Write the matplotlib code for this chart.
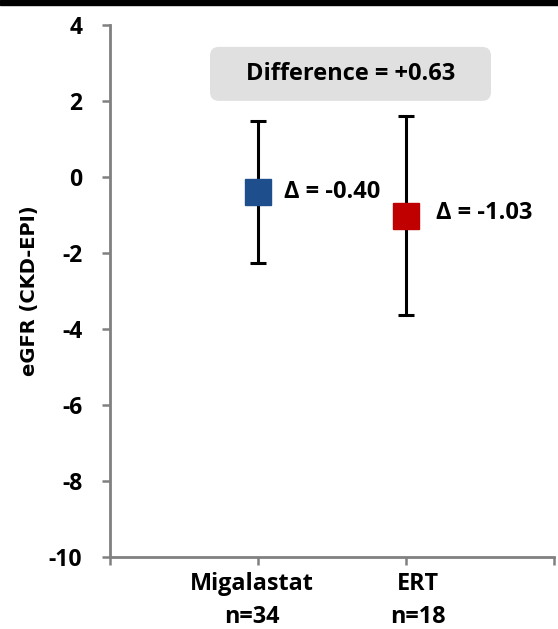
import matplotlib.pyplot as plt
from matplotlib.patches import FancyBboxPatch

plt.rcParams['font.family'] = ['Open Sans', 'DejaVu Sans']
plt.rcParams['axes.unicode_minus'] = False

groups = ['Migalastat', 'ERT']
n_patients = [34, 18]
means = [-0.40, -1.03]
upper = [1.47, 1.60]
lower = [-2.27, -3.63]
colors = ['#1F4E8C', '#C00000']
difference = 0.63

xpos = [1, 2]
label_pos = [0.96, 2.08]

fig = plt.figure(figsize=(5.58, 6.29), dpi=100)
ax = fig.add_axes([0.197, 0.1145, 0.796, 0.846])

for x, m, hi, lo, c in zip(xpos, means, upper, lower, colors):
    ax.errorbar(x, m, yerr=[[m - lo], [hi - m]], fmt='none', ecolor='black',
                elinewidth=2.2, capsize=5.5, capthick=2.2, zorder=2)
    ax.plot(x, m, marker='s', markersize=18.5, color=c, markeredgecolor=c, zorder=3)

ax.text(xpos[0] + 0.176, means[0], f'Δ = {means[0]:.2f}', fontsize=17, fontweight='bold',
        va='center', ha='left')
ax.text(xpos[1] + 0.20, means[1] + 0.08, f'Δ = {means[1]:.2f}', fontsize=17, fontweight='bold',
        va='center', ha='left')

box = FancyBboxPatch((0.676, 2.0), 1.898, 1.42, boxstyle='round,pad=0,rounding_size=0.06',
                     facecolor='#E0E0E0', edgecolor='none', mutation_aspect=3.9, zorder=1)
ax.add_patch(box)
ax.text(1.625, 2.71, f'Difference = +{difference:.2f}', fontsize=17, fontweight='bold',
        ha='center', va='center', zorder=2)

ax.set_xlim(0, 3)
ax.set_ylim(-10, 4)
ax.set_yticks(range(-10, 5, 2))
ax.set_xticks([0, 1, 2, 3])
ax.set_xticklabels([])
ax.set_xticks(label_pos, minor=True)
ax.set_xticklabels([f'{g}\nn={n}' for g, n in zip(groups, n_patients)], minor=True,
                   fontsize=16.8, fontweight='bold', linespacing=1.5)
ax.tick_params(axis='x', which='minor', length=0, pad=11)
ax.tick_params(axis='both', which='major', color='#808080', width=1.8, length=6,
               labelsize=16.5, pad=14)
for lab in ax.get_yticklabels():
    lab.set_fontweight('bold')

for s in ['top', 'right']:
    ax.spines[s].set_visible(False)
for s in ['left', 'bottom']:
    ax.spines[s].set_color('#808080')
    ax.spines[s].set_linewidth(2)

ax.set_ylabel('eGFR (CKD-EPI)', fontsize=14, fontweight='bold', labelpad=7,
              family='DejaVu Sans')

fig.patches.append(plt.Rectangle((0, 1 - 5 / 629), 1, 5 / 629, transform=fig.transFigure,
                                 color='black', zorder=10))

fig.savefig('out.png', dpi=100)
